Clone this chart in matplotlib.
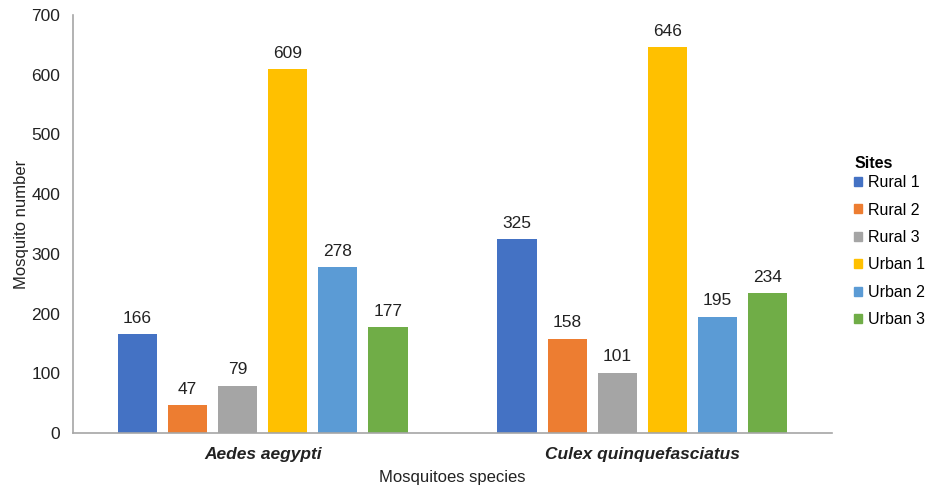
import matplotlib.pyplot as plt
from matplotlib.patches import Patch
import numpy as np

plt.rcParams['font.family'] = ['Liberation Sans', 'DejaVu Sans']

species = ['Aedes aegypti', 'Culex quinquefasciatus']
sites = ['Rural 1', 'Rural 2', 'Rural 3', 'Urban 1', 'Urban 2', 'Urban 3']
rural1 = [166, 325]
rural2 = [47, 158]
rural3 = [79, 101]
urban1 = [609, 646]
urban2 = [278, 195]
urban3 = [177, 234]
series = [rural1, rural2, rural3, urban1, urban2, urban3]
colours = ['#4472C4', '#ED7D31', '#A5A5A5', '#FFC000', '#5B9BD5', '#70AD47']

fig = plt.figure(figsize=(9.31, 4.93), dpi=100)
ax = fig.add_axes([0.0784, 0.1217, 0.8153, 0.8479])

x = np.arange(len(species))
pitch = 0.132
width = 0.103
for i, (vals, c) in enumerate(zip(series, colours)):
    pos = x + (i - 2.5) * pitch
    bars = ax.bar(pos, vals, width=width, color=c)
    for b, v in zip(bars, vals):
        ax.annotate(str(v), (b.get_x() + b.get_width() / 2, v),
                    xytext=(0, 6), textcoords='offset points',
                    ha='center', va='bottom', fontsize=12.5, color='#222222')

ax.set_xlim(-0.5, 1.5)
ax.set_ylim(0, 700)
ax.set_yticks(range(0, 701, 100))
ax.set_xticks(x)
ax.set_xticklabels(species, fontweight='bold', fontstyle='italic', fontsize=12, color='#222222')
ax.tick_params(axis='both', length=0, labelsize=12.5, colors='#222222')
ax.tick_params(axis='y', pad=9)
ax.tick_params(axis='x', pad=10)
for s in ['top', 'right']:
    ax.spines[s].set_visible(False)
for s in ['left', 'bottom']:
    ax.spines[s].set_color('#A6A6A6')
    ax.spines[s].set_linewidth(1.2)

ax.set_xlabel('Mosquitoes species', fontsize=12, color='#222222', labelpad=6)
ax.set_ylabel('Mosquito number', fontsize=12, color='#222222', labelpad=2)

handles = [Patch(color=c, label=s) for s, c in zip(sites, colours)]
leg = fig.legend(handles=handles, title='Sites', loc='upper left',
                 bbox_to_anchor=(0.909, 0.70), frameon=False, fontsize=11.5,
                 handlelength=0.5, handleheight=0.5, handletextpad=0.35,
                 labelspacing=0.78, borderpad=0)
leg.get_title().set_fontweight('bold')
leg.get_title().set_fontsize(11.5)
leg._legend_box.align = 'left'
leg._legend_box.sep = 3

fig.savefig('out.png', dpi=100)
